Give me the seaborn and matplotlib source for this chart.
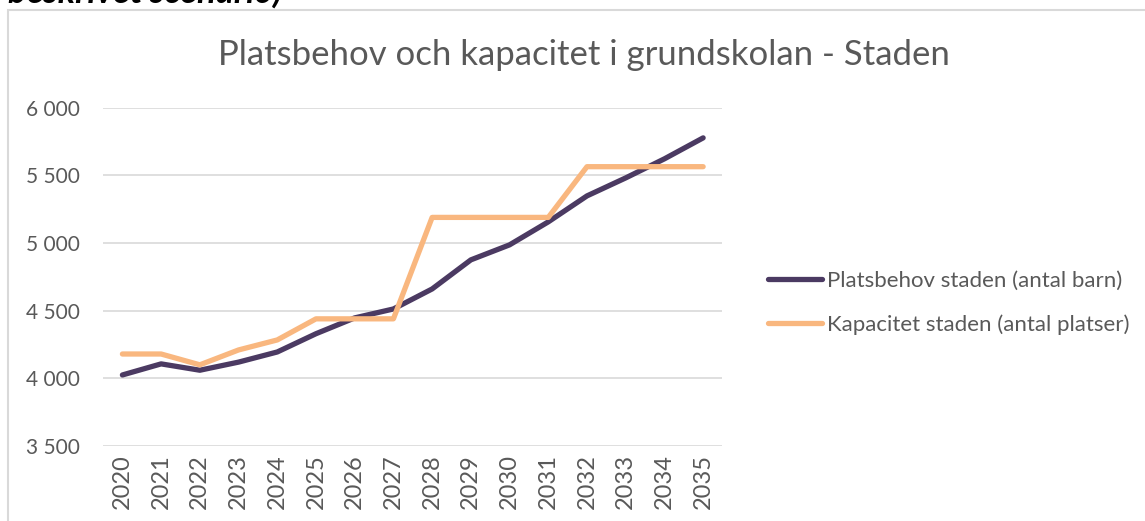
import matplotlib.pyplot as plt
import pandas as pd
import seaborn as sns
from matplotlib.patches import Rectangle
from matplotlib.ticker import FuncFormatter

# ── Data ──────────────────────────────────────────────────────────────────────
years = [str(y) for y in range(2020, 2036)]
platsbehov = [4025, 4107, 4060, 4120, 4195, 4330, 4447, 4513,
              4661, 4876, 4987, 5157, 5349, 5482, 5623, 5778]
kapacitet = [4180, 4180, 4100, 4210, 4284, 4440, 4440, 4440,
             5190, 5190, 5190, 5190, 5565, 5565, 5565, 5565]
series_names = ["Platsbehov staden (antal barn)", "Kapacitet staden (antal platser)"]
colors = ["#4B3A62", "#F9B77F"]

df = pd.concat([
    pd.DataFrame({"year": years, "value": platsbehov, "serie": series_names[0]}),
    pd.DataFrame({"year": years, "value": kapacitet, "serie": series_names[1]}),
], ignore_index=True)

# ── Style ─────────────────────────────────────────────────────────────────────
sns.set_style("white")
plt.rcParams["font.family"] = ["Lato", "DejaVu Sans"]
text_gray = "#595959"

fig = plt.figure(figsize=(11.45, 5.21), dpi=100)
ax = fig.add_axes([0.090, 0.144, 0.541, 0.649])

sns.lineplot(data=df, x="year", y="value", hue="serie", palette=colors,
             linewidth=3.8, ax=ax, sort=False, solid_capstyle="round")

ax.set_ylim(3500, 6000)
ax.set_yticks([3500, 4000, 4500, 5000, 5500, 6000])
ax.yaxis.set_major_formatter(FuncFormatter(lambda v, _: f"{int(v):,}".replace(",", " ")))
ax.set_xlim(-0.5, len(years) - 0.5)
ax.grid(axis="y", color="#d9d9d9", linewidth=1.2)
ax.set_axisbelow(True)
for side in ax.spines.values():
    side.set_visible(False)
ax.set_xlabel("")
ax.set_ylabel("")
ax.tick_params(axis="both", length=0, labelcolor=text_gray)
ax.tick_params(axis="y", labelsize=15, pad=17)
ax.tick_params(axis="x", labelsize=17, pad=6)
plt.setp(ax.get_xticklabels(), rotation=90)

ax.legend(loc="center left", bbox_to_anchor=(768 / 1145, 1 - 303 / 521),
          bbox_transform=fig.transFigure, frameon=False,
          fontsize=16, labelcolor=text_gray, handlelength=2.45, handletextpad=0.22,
          labelspacing=1.05, borderpad=0, borderaxespad=0)

fig.text(0.51, 0.895, "Platsbehov och kapacitet i grundskolan - Staden",
         ha="center", va="center", fontsize=25, color=text_gray)

# chart frame and cut-off heading above it
fig.add_artist(Rectangle((8 / 1145, -0.1), 1.2, 1 - 10 / 521 + 0.1,
                         transform=fig.transFigure, fill=False,
                         edgecolor="#d9d9d9", linewidth=1.5))
fig.text(8 / 1145, 1 - 3 / 521, "beskrivet scenario)", ha="left", va="baseline",
         fontsize=25, fontweight="bold", fontstyle="italic", color="black")

fig.savefig("out.png", dpi=100)
